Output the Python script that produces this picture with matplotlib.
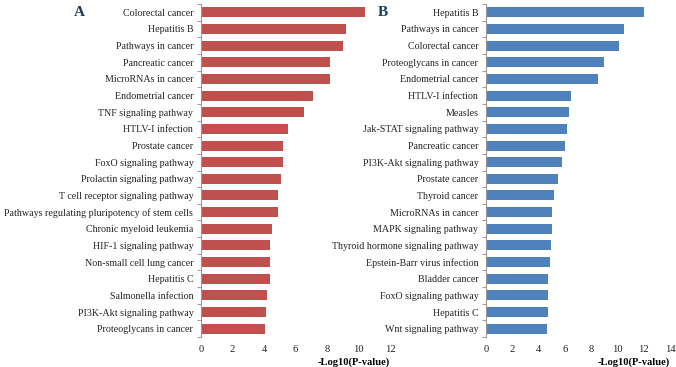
import matplotlib
matplotlib.use('Agg')
from matplotlib import pyplot as plt
import numpy as np

plt.rcParams['font.family'] = ['Liberation Serif', 'DejaVu Serif']

terms_a = ['Colorectal cancer', 'Hepatitis B', 'Pathways in cancer', 'Pancreatic cancer',
           'MicroRNAs in cancer', 'Endometrial cancer', 'TNF signaling pathway',
           'HTLV-I infection', 'Prostate cancer', 'FoxO signaling pathway',
           'Prolactin signaling pathway', 'T cell receptor signaling pathway',
           'Pathways regulating pluripotency of stem cells', 'Chronic myeloid leukemia',
           'HIF-1 signaling pathway', 'Non-small cell lung cancer', 'Hepatitis C',
           'Salmonella infection', 'PI3K-Akt signaling pathway', 'Proteoglycans in cancer']
values_a = [10.4, 9.2, 9.0, 8.2, 8.2, 7.1, 6.55, 5.5, 5.2, 5.2,
            5.1, 4.9, 4.9, 4.5, 4.4, 4.4, 4.35, 4.2, 4.15, 4.05]

terms_b = ['Hepatitis B', 'Pathways in cancer', 'Colorectal cancer', 'Proteoglycans in cancer',
           'Endometrial cancer', 'HTLV-I infection', 'Measles', 'Jak-STAT signaling pathway',
           'Pancreatic cancer', 'PI3K-Akt signaling pathway', 'Prostate cancer',
           'Thyroid cancer', 'MicroRNAs in cancer', 'MAPK signaling pathway',
           'Thyroid hormone signaling pathway', 'Epstein-Barr virus infection',
           'Bladder cancer', 'FoxO signaling pathway', 'Hepatitis C', 'Wnt signaling pathway']
values_b = [12.05, 10.5, 10.15, 9.0, 8.55, 6.5, 6.3, 6.15, 6.0, 5.8,
            5.5, 5.15, 5.05, 5.0, 4.95, 4.9, 4.75, 4.75, 4.7, 4.65]

W, H = 676, 367
fig = plt.figure(figsize=(W / 100, H / 100), dpi=100)


def panel(left, right, terms, values, color, xmax, letter, letter_x):
    ax = fig.add_axes([left / W, 1 - 337 / H, (right - left) / W, (337 - 4) / H])
    y = np.arange(len(terms))
    ax.barh(y, values, height=0.6, color=color)
    ax.set_ylim(len(terms) - 0.5, -0.5)
    ax.set_xlim(0, xmax)
    ax.set_yticks(y)
    ax.set_yticklabels(terms, fontsize=7.2, color='#222222')
    ax.set_yticks(np.arange(len(terms) + 1) - 0.5, minor=True)
    ax.tick_params(axis='y', which='major', length=0, pad=5.5)
    ax.tick_params(axis='y', which='minor', length=3, color='#999999', width=0.7)
    ax.set_xticks(np.arange(0, xmax + 1, 2))
    ax.tick_params(axis='x', length=0, labelsize=7.6, pad=6, labelcolor='#222222')
    for s in ['top', 'right', 'bottom']:
        ax.spines[s].set_visible(False)
    ax.spines['left'].set_color('#999999')
    ax.spines['left'].set_linewidth(0.8)
    ax.set_xlabel('-Log10(P-value)', fontsize=7.6, fontweight='bold', labelpad=0)
    ax.xaxis.set_label_coords(1.0, -0.06)
    ax.xaxis.label.set_horizontalalignment('right')
    fig.text(letter_x / W, 1 - 12 / H, letter, fontsize=11, fontweight='bold',
             color='#1F3A5F', ha='center', va='center')
    return ax


panel(201, 390, terms_a, values_a, '#C0504D', 12, 'A', 79)
panel(486, 670, terms_b, values_b, '#4F81BD', 14, 'B', 383)

fig.savefig('out.png', dpi=100)
